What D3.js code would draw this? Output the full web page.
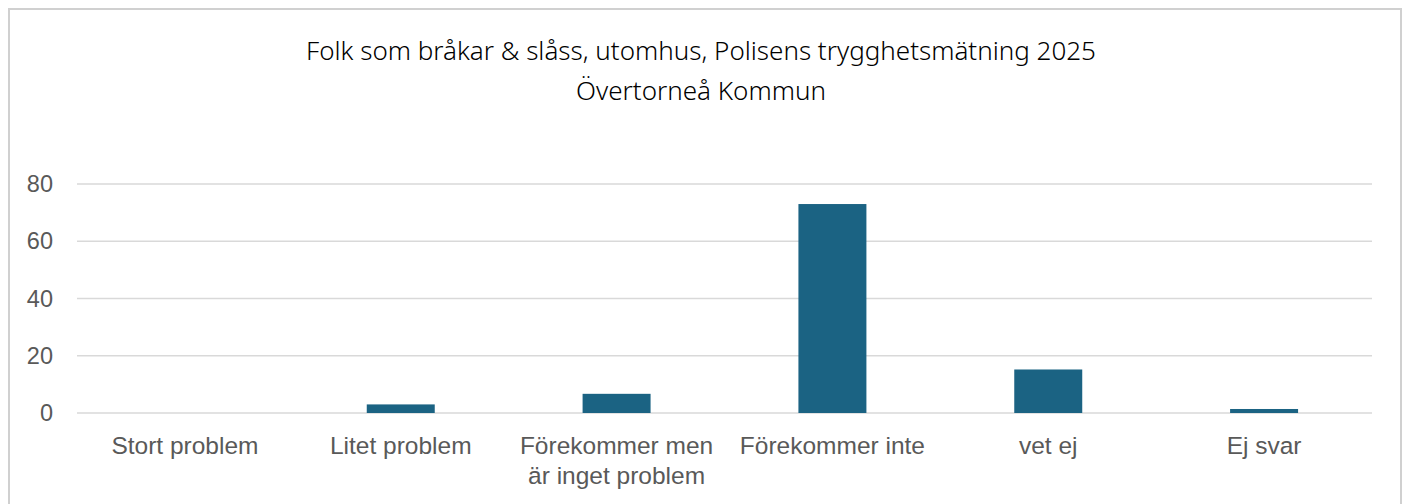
<!DOCTYPE html>
<html>
<head>
<meta charset="utf-8">
<script src="https://cdn.jsdelivr.net/npm/d3@7"></script>
<style>
  body { margin: 0; background: #fff; }
  svg { display: block; }
</style>
</head>
<body>
<div class="chart"></div>
<script>
const categories = [
  ['Stort problem'],
  ['Litet problem'],
  ['Förekommer men', 'är inget problem'],
  ['Förekommer inte'],
  ['vet ej'],
  ['Ej svar']
];
const values = [0, 3.0, 6.7, 73.0, 15.2, 1.4];
const yTicks = [0, 20, 40, 60, 80];
const titleLines = [
  'Folk som bråkar & slåss, utomhus, Polisens trygghetsmätning 2025',
  'Övertorneå Kommun'
];

const width = 1408, height = 504;
const margin = {top: 184, right: 36, bottom: 91, left: 77};

const svg = d3.select('.chart')
  .append('svg')
  .attr('width', width)
  .attr('height', height);

// chart frame
svg.append('rect')
  .attr('x', 9)
  .attr('y', 9)
  .attr('width', 1392)
  .attr('height', 520)
  .style('fill', 'none')
  .style('stroke', '#d0d0d0')
  .style('stroke-width', 2);

const x = d3.scaleBand()
  .domain(d3.range(categories.length))
  .range([margin.left, width - margin.right])
  .paddingInner(0.685)
  .paddingOuter(0.3425);

const y = d3.scaleLinear()
  .domain([0, 80])
  .range([height - margin.bottom, margin.top]);

// gridlines
svg.append('g')
  .selectAll('line')
  .data(yTicks)
  .enter().append('line')
  .attr('x1', margin.left)
  .attr('x2', width - margin.right)
  .attr('y1', d => y(d))
  .attr('y2', d => y(d))
  .style('stroke', '#d9d9d9')
  .style('stroke-width', 1.5);

// y axis labels
const yAxis = svg.append('g')
  .attr('transform', 'translate(' + 53 + ',0)')
  .call(d3.axisLeft(y).tickValues(yTicks).tickSize(0).tickPadding(0));
yAxis.select('.domain').remove();
yAxis.selectAll('text')
  .style('font-family', '"Liberation Sans", Arial, sans-serif')
  .style('font-size', '23.5px')
  .style('fill', '#595959');

// bars
svg.append('g')
  .selectAll('rect')
  .data(values)
  .enter().append('rect')
  .attr('x', (d, i) => x(i))
  .attr('y', d => y(d))
  .attr('width', x.bandwidth())
  .attr('height', d => y(0) - y(d))
  .style('fill', '#1b6383');

// category labels
const xAxis = svg.append('g');
xAxis.selectAll('text')
  .data(categories)
  .enter().append('text')
  .attr('x', (d, i) => x(i) + x.bandwidth() / 2)
  .attr('y', 454)
  .attr('text-anchor', 'middle')
  .style('font-family', '"Liberation Sans", Arial, sans-serif')
  .style('font-size', '24.5px')
  .style('fill', '#595959')
  .each(function (d) {
    const t = d3.select(this);
    d.forEach((line, j) => {
      t.append('tspan')
        .attr('x', t.attr('x'))
        .attr('dy', j === 0 ? 0 : 30)
        .text(line);
    });
  });

// title
svg.append('g')
  .selectAll('text')
  .data(titleLines)
  .enter().append('text')
  .attr('x', 701)
  .attr('y', (d, i) => 60 + i * 40)
  .attr('text-anchor', 'middle')
  .style('font-family', '"Noto Sans", sans-serif')
  .style('font-weight', 300)
  .style('font-size', '26px')
  .style('fill', '#000')
  .text(d => d);
</script>
</body>
</html>
